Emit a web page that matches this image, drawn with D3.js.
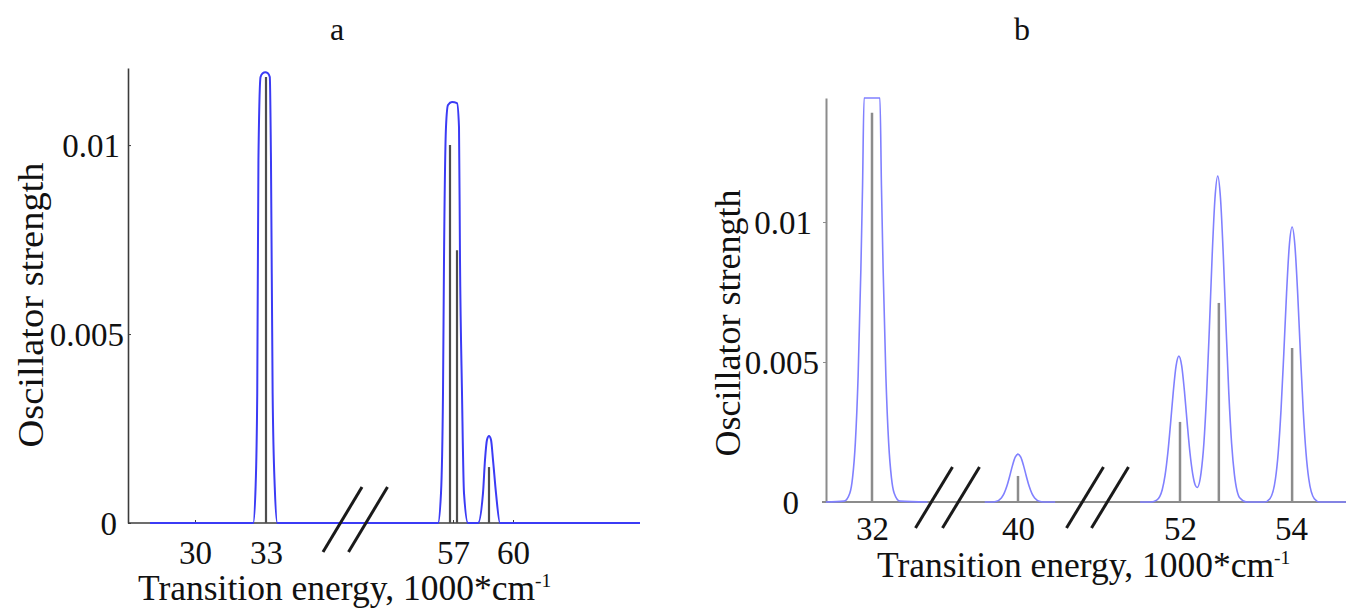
<!DOCTYPE html>
<html><head><meta charset="utf-8">
<script src="https://cdn.jsdelivr.net/npm/d3@7"></script>
<style>
html,body{margin:0;padding:0;background:#fff;}
svg{display:block;font-family:"Liberation Serif","Times New Roman",serif;}
</style></head><body>
<svg id="c" width="1346" height="608"></svg>
<script>
// ---------- data ----------
const panelTitles = ["a", "b"];
const yTitle = "Oscillator strength";
const xTitleMain = "Transition energy, 1000*cm";
const xTitleSup = "-1";
const yTickValues = [0, 0.005, 0.01];
const yTickLabels = ["0", "0.005", "0.01"];

// panel a
const aXTicks1 = [30, 33];
const aXTicks2 = [57, 60];
const aStickX = [33.0, 56.85, 57.2, 58.8];
const aStickY = [0.0118, 0.0100, 0.00722, 0.00148];
const aEnv1X = [28.1, 32.46, 32.56, 32.63, 32.68, 32.77, 32.86, 32.97, 33.08, 33.16, 33.21, 33.28, 33.37, 33.48, 37.0];
const aEnv1Y = [0, 0, 0.00095, 0.00344, 0.0096, 0.0118, 0.0119, 0.01193, 0.0119, 0.0118, 0.0096, 0.00344, 0.00095, 0, 0];
const aEnv2X = [52.0, 56.25, 56.40, 56.50, 56.55, 56.65, 56.75, 56.95, 57.20, 57.30, 57.35, 57.45, 57.55, 57.75, 58.25, 58.50, 58.60, 58.70, 58.80, 58.90, 59.00, 59.15, 59.35, 66.35];
const aEnv2Y = [0, 0, 0.00079, 0.00344, 0.00696, 0.01048, 0.01106, 0.01114, 0.01111, 0.01048, 0.00696, 0.00344, 0.00079, 0, 0, 0.00079, 0.00167, 0.0022, 0.0023, 0.0022, 0.00167, 0.00079, 0, 0];

// panel b
const bXTicks1 = [32];
const bXTicks2 = [40];
const bXTicks3 = [52, 54];
const bStickX = [32.0, 40.0, 52.0, 52.7, 54.02];
const bStickY = [0.0139, 0.00093, 0.00286, 0.00711, 0.0055];
const bEnv1X = [31.17, 31.5, 31.6, 31.65, 31.7, 31.75, 31.8, 31.83, 31.857, 32.143, 32.17, 32.2, 32.25, 32.3, 32.35, 32.4, 32.5, 33.0];
const bEnv1Y = [0, 0.00003, 0.00031, 0.00087, 0.00212, 0.0045, 0.00835, 0.0113, 0.01443, 0.01443, 0.0113, 0.00835, 0.0045, 0.00212, 0.00087, 0.00031, 0.00003, 0];
const bEnv2X = [39.4, 39.5, 39.6, 39.7, 39.75, 39.8, 39.85, 39.9, 39.95, 40.0, 40.05, 40.1, 40.15, 40.2, 40.25, 40.3, 40.4, 40.5, 40.67];
const bEnv2Y = [0, 0, 0.00002, 0.000145, 0.00031, 0.00057, 0.00092, 0.0013, 0.0016, 0.00171, 0.0016, 0.0013, 0.00092, 0.00057, 0.00031, 0.000145, 0.00002, 0, 0];
const bEnv3X = [51.28, 51.48, 51.58, 51.68, 51.73, 51.78, 51.83, 51.88, 51.93, 51.98, 52.03, 52.08, 52.13, 52.18, 52.23, 52.28, 52.31, 52.38, 52.43, 52.48, 52.53, 52.58, 52.63, 52.68, 52.73, 52.78, 52.83, 52.88, 52.93, 52.98, 53.08, 53.2, 53.52, 53.62, 53.72, 53.77, 53.82, 53.87, 53.92, 53.97, 54.02, 54.07, 54.12, 54.17, 54.22, 54.27, 54.32, 54.42, 54.52, 54.99];
const bEnv3Y = [0, 0, 0.000065, 0.00044, 0.00094, 0.00174, 0.00281, 0.00396, 0.00487, 0.00521, 0.00487, 0.00396, 0.00281, 0.00175, 0.00099, 0.00058, 0.00052, 0.00105, 0.00209, 0.00387, 0.00625, 0.00882, 0.01084, 0.01164, 0.01084, 0.00882, 0.00625, 0.00387, 0.00209, 0.00099, 0.00014, 0, 0, 0.00012, 0.00083, 0.00177, 0.00328, 0.00529, 0.00746, 0.00917, 0.00982, 0.00917, 0.00746, 0.00529, 0.00328, 0.00177, 0.00083, 0.00012, 0, 0];

// ---------- drawing ----------
const svg = d3.select("#c");

function drawPanel(cfg) {
  const g = svg.append("g");
  const y = d3.scaleLinear().domain([0, cfg.yMax]).range([cfg.y0, cfg.yTop]);
  const segs = cfg.segs.map(s => ({...s, scale: d3.scaleLinear().domain(s.dom).range(s.rng)}));
  const pick = v => segs.find(s => v >= s.lo && v < s.hi).scale;
  const x = v => pick(v)(v);

  // x axis line
  g.append("line").attr("x1", cfg.xAxisStart).attr("x2", cfg.xAxisEnd)
    .attr("y1", y(0)).attr("y2", y(0))
    .attr("stroke", cfg.axisColor).attr("stroke-width", cfg.axisWidth);

  // y axis
  const ya = g.append("g").attr("transform", `translate(${cfg.yAxisX},0)`)
    .call(d3.axisLeft(y).tickValues(yTickValues).tickFormat((d, i) => yTickLabels[i])
      .tickSizeInner(cfg.yTickInner).tickSizeOuter(0).tickPadding(cfg.yTickPad));
  ya.select(".domain").attr("stroke", cfg.axisColor).attr("stroke-width", cfg.axisWidth);
  ya.selectAll(".tick line").attr("stroke", cfg.axisColor).attr("stroke-width", 1);
  ya.selectAll(".tick text").attr("font-size", cfg.tickFont).attr("fill", "#111")
    .attr("font-family", "Liberation Serif").attr("dy", "0.35em")
    .attr("dx", (d, i) => cfg.yLabelDx[i]);

  // x axes per segment
  segs.forEach(s => {
    const xa = g.append("g").attr("transform", `translate(0,${y(0)})`)
      .call(d3.axisBottom(s.scale).tickValues(s.ticks).tickFormat(d3.format("d"))
        .tickSizeInner(-3).tickSizeOuter(0).tickPadding(cfg.xTickPad));
    xa.select(".domain").remove();
    xa.selectAll(".tick line").attr("stroke", cfg.axisColor);
    xa.selectAll(".tick text").attr("font-size", cfg.tickFont).attr("fill", "#111")
      .attr("font-family", "Liberation Serif");
  });

  // sticks
  g.selectAll("line.stick").data(d3.zip(cfg.stickX, cfg.stickY)).join("line")
    .attr("class", "stick")
    .attr("x1", d => x(d[0])).attr("x2", d => x(d[0]))
    .attr("y1", y(0)).attr("y2", d => y(d[1]))
    .attr("stroke", cfg.stickColor).attr("stroke-width", cfg.stickWidth);

  // envelope
  const line = d3.line().x(d => x(d[0])).y(d => y(d[1])).curve(d3.curveMonotoneX);
  cfg.env.forEach(e => {
    g.append("path").datum(d3.zip(e[0], e[1])).attr("d", line)
      .attr("fill", "none").attr("stroke", cfg.envColor).attr("stroke-width", cfg.envWidth)
      .attr("stroke-linejoin", "round");
  });

  // break marks
  cfg.breaks.forEach(b => {
    g.append("line").attr("x1", b - cfg.brDx / 2).attr("x2", b + cfg.brDx / 2)
      .attr("y1", y(0) + cfg.brOff + cfg.brDy / 2).attr("y2", y(0) + cfg.brOff - cfg.brDy / 2)
      .attr("stroke", "#1a1a1a").attr("stroke-width", 3);
  });

  // titles
  g.append("text").attr("x", cfg.titleX).attr("y", 40).attr("text-anchor", "middle")
    .attr("font-size", 32).attr("fill", "#111").text(cfg.title);

  g.append("text").attr("transform", `translate(${cfg.yTitleX},${cfg.yTitleY}) rotate(-90)`)
    .attr("text-anchor", "middle").attr("dy", "0.35em")
    .attr("font-size", cfg.yTitleFont).attr("textLength", cfg.yTitleLen).attr("lengthAdjust", "spacingAndGlyphs")
    .attr("fill", "#111").text(yTitle);

  const xt = g.append("text").attr("x", cfg.xTitleX).attr("y", cfg.xTitleY)
    .attr("text-anchor", "start").attr("font-size", cfg.xTitleFont).attr("fill", "#111");
  xt.append("tspan").text(xTitleMain);
  xt.append("tspan").attr("font-size", cfg.xTitleFont * 0.55).attr("dy", -cfg.xTitleFont * 0.36).text(xTitleSup);
}

drawPanel({
  title: panelTitles[0], titleX: 337,
  yMax: 0.01204, y0: 523, yTop: 68, yAxisX: 128,
  xAxisStart: 128, xAxisEnd: 640,
  segs: [
    {lo: 0, hi: 45, dom: [30, 33], rng: [195, 266], ticks: aXTicks1},
    {lo: 45, hi: 100, dom: [57, 60], rng: [453, 513], ticks: aXTicks2}
  ],
  axisColor: "#3c3c3c", axisWidth: 1.6, yTickInner: -3, yTickPad: 8, xTickPad: 18,
  yLabelDx: [-3, 4, 0],
  tickFont: 33,
  stickX: aStickX, stickY: aStickY, stickColor: "#4d4d4d", stickWidth: 2.2,
  env: [[aEnv1X, aEnv1Y], [aEnv2X, aEnv2Y]], envColor: "#3b3bf5", envWidth: 2,
  breaks: [342.5, 368], brDx: 39, brDy: 65, brOff: -3.5,
  yTitleX: 30, yTitleY: 305, yTitleFont: 36, yTitleLen: 285,
  xTitleX: 138, xTitleY: 600, xTitleFont: 35.5
});

drawPanel({
  title: panelTitles[1], titleX: 1022,
  yMax: 0.01443, y0: 502, yTop: 98, yAxisX: 826,
  xAxisStart: 822, xAxisEnd: 1346,
  segs: [
    {lo: 0, hi: 36, dom: [32, 33], rng: [872, 927.5], ticks: bXTicks1},
    {lo: 36, hi: 46, dom: [40, 41], rng: [1018, 1073.5], ticks: bXTicks2},
    {lo: 46, hi: 100, dom: [52, 54], rng: [1180, 1291], ticks: bXTicks3}
  ],
  axisColor: "#8c8c8c", axisWidth: 2, yTickInner: 3, yTickPad: 7, xTickPad: 15,
  yLabelDx: [-17, 3, -4],
  tickFont: 33,
  stickX: bStickX, stickY: bStickY, stickColor: "#8c8c8c", stickWidth: 2.5,
  env: [[bEnv1X, bEnv1Y], [bEnv2X, bEnv2Y], [bEnv3X, bEnv3Y]], envColor: "#8080ff", envWidth: 1.6,
  breaks: [934, 961, 1085, 1110], brDx: 37, brDy: 61, brOff: -4.5,
  yTitleX: 727, yTitleY: 323, yTitleFont: 36, yTitleLen: 267,
  xTitleX: 877, xTitleY: 577, xTitleFont: 35.5
});
</script>
</body></html>
